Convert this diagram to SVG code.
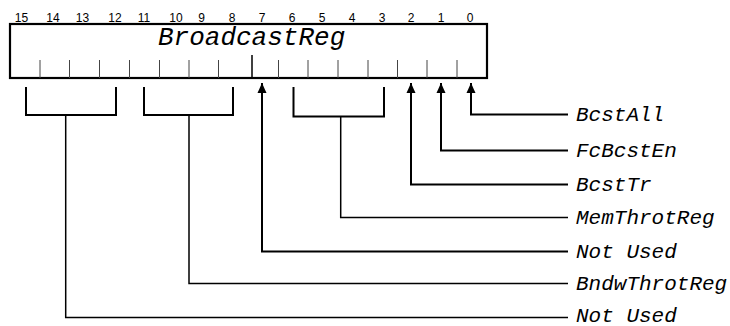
<svg xmlns="http://www.w3.org/2000/svg" width="730" height="326" viewBox="0 0 730 326">
<defs>
<style>
.bit{font-family:"Liberation Sans",Arial,sans-serif;font-size:12px;fill:#000;text-anchor:middle}
.lbl{font-family:'Liberation Mono';font-style:oblique;font-size:21px;fill:#000}
.title{font-family:'Liberation Mono';font-style:oblique;font-size:26px;fill:#000}
.tick{stroke:#444;stroke-width:1;fill:none}
.brk{stroke:#000;stroke-width:2;fill:none}
.stem{stroke:#000;stroke-width:1.5;fill:none}
.ln{stroke:#000;stroke-width:2;fill:none}
</style>
<marker id="ah" viewBox="0 0 10 10" refX="10" refY="5" markerWidth="10" markerHeight="10" markerUnits="userSpaceOnUse" orient="auto">
<path d="M0,0.5 L10,5 L0,9.5 Z" fill="#000"/>
</marker>
</defs>
<rect width="730" height="326" fill="#fff"/>
<g id="bit-numbers">
<text class="bit" x="21.5" y="21.5">15</text>
<text class="bit" x="53" y="21.5">14</text>
<text class="bit" x="82.5" y="21.5">13</text>
<text class="bit" x="115" y="21.5">12</text>
<text class="bit" x="144" y="21.5">11</text>
<text class="bit" x="176" y="21.5">10</text>
<text class="bit" x="201.5" y="21.5">9</text>
<text class="bit" x="232" y="21.5">8</text>
<text class="bit" x="262" y="21.5">7</text>
<text class="bit" x="292" y="21.5">6</text>
<text class="bit" x="322" y="21.5">5</text>
<text class="bit" x="352" y="21.5">4</text>
<text class="bit" x="382" y="21.5">3</text>
<text class="bit" x="411" y="21.5">2</text>
<text class="bit" x="441" y="21.5">1</text>
<text class="bit" x="470" y="21.5">0</text>
</g>
<g id="register">
<rect x="10" y="24" width="477" height="54" fill="#fff" stroke="#000" stroke-width="2.2"/>
<text class="title" x="158" y="45">BroadcastReg</text>
<path class="tick" d="M40,60V78 M69.5,60V78 M99.5,60V78 M129.5,60V78 M159.5,60V78 M189,60V78 M218.5,60V78 M278.5,60V78 M308,60V78 M338,60V78 M368,60V78 M397.5,60V78 M427,60V78 M457,60V78"/>
<path d="M252,55V78" stroke="#000" stroke-width="1.5"/>
</g>
<g id="brackets">
<path class="brk" d="M26,87V115H116V87"/>
<path class="brk" d="M144,87V115H233V87"/>
<path class="brk" d="M293.5,87V116.5H384V87"/>
</g>
<g id="connectors">
<path class="ln" d="M568,114.5H471V83" marker-end="url(#ah)"/>
<path class="ln" d="M568,150.5H441V83" marker-end="url(#ah)"/>
<path class="ln" d="M568,184.5H411V83" marker-end="url(#ah)"/>
<path class="stem" d="M340.7,116.5V217.5H568"/>
<path class="ln" d="M568,251.5H262V83" marker-end="url(#ah)"/>
<path class="stem" d="M189,115V283.5H568"/>
<path class="stem" d="M65.7,115V317.5H568"/>
</g>
<g id="labels">
<text class="lbl" x="576" y="120.5">BcstAll</text>
<text class="lbl" x="576" y="156.5">FcBcstEn</text>
<text class="lbl" x="576" y="190.5">BcstTr</text>
<text class="lbl" x="576" y="223.5">MemThrotReg</text>
<text class="lbl" x="576" y="257.5">Not Used</text>
<text class="lbl" x="576" y="289.5">BndwThrotReg</text>
<text class="lbl" x="576" y="322">Not Used</text>
</g>
</svg>
